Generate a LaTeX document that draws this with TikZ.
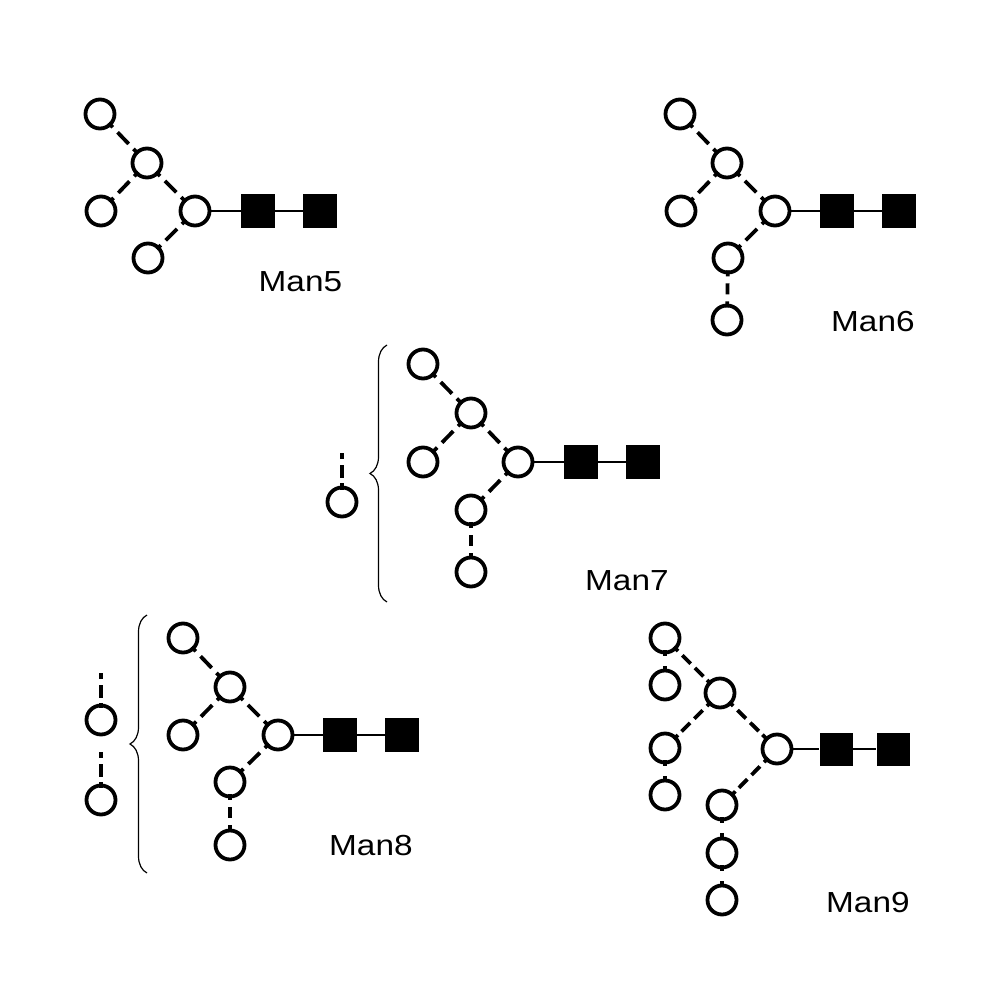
\documentclass[tikz,border=0pt]{standalone}
\usepackage{fontspec}
\usepackage{graphicx}
\setmainfont{Liberation Sans}
\usetikzlibrary{decorations.pathreplacing}
\begin{document}
\begin{tikzpicture}[x=1pt,y=-1pt,
  gc/.style={circle,draw,line width=3.8pt,fill=white,minimum size=29pt,inner sep=0pt},
  gs/.style={rectangle,fill=black,minimum size=34pt,inner sep=0pt},
  gss/.style={rectangle,fill=black,minimum size=33pt,inner sep=0pt},
  sl/.style={line width=2.2pt},
  dlink/.style={line width=3.8pt,shorten <=-4pt,shorten >=-4pt},
  dd/.style={dlink,dash pattern=on 6pt off 7pt on 16pt off 7pt on 6pt off 60pt},
  dD/.style={dlink,dash pattern=on 6pt off 6pt on 12pt off 6pt on 12pt off 5pt on 6pt off 60pt},
  dv/.style={dlink,dash pattern=on 6pt off 7pt on 11pt off 7pt on 6pt off 60pt},
  dvs/.style={dlink,dash pattern=on 6pt off 10pt on 6pt off 60pt},
  dx/.style={line width=3.8pt,shorten >=-4pt,dash pattern=on 6pt off 6pt on 13pt off 5pt on 7pt off 60pt},
  br/.style={decorate,decoration={brace,amplitude=17pt},line width=1.2pt},
  lab/.style={anchor=base west,inner sep=0pt,font=\fontsize{29}{33}\selectfont}
]
\fill[white] (0,0) rectangle (1000,1000);
\useasboundingbox (0,0) rectangle (1000,1000);

% ---------- Man5 ----------
\node[gc] (m5c) at (195,211) {};
\node[gc] (m5a) at (147,163) {};
\node[gc] (m5u) at (100,114) {};
\node[gc] (m5l) at (101,211) {};
\node[gc] (m5b) at (148,258) {};
\node[gs] (m5s1) at (258,211) {};
\node[gs] (m5s2) at (320,211) {};
\draw[dd] (m5u) -- (m5a);
\draw[dd] (m5a) -- (m5l);
\draw[dd] (m5a) -- (m5c);
\draw[dd] (m5c) -- (m5b);
\draw[sl] (m5c) -- (m5s1);
\draw[sl] (m5s1) -- (m5s2);
\node[lab] (m5t) at (258.5,291.7) {\scalebox{1.15}[1]{Man5}};

% ---------- Man6 ----------
\node[gc] (m6c) at (775,211) {};
\node[gc] (m6a) at (727,163) {};
\node[gc] (m6u) at (680,114) {};
\node[gc] (m6l) at (681,211) {};
\node[gc] (m6b) at (728,258) {};
\node[gc] (m6b2) at (727,320) {};
\node[gs] (m6s1) at (837,211) {};
\node[gs] (m6s2) at (899,211) {};
\draw[dd] (m6u) -- (m6a);
\draw[dd] (m6a) -- (m6l);
\draw[dd] (m6a) -- (m6c);
\draw[dd] (m6c) -- (m6b);
\draw[dv] (m6b) -- (m6b2);
\draw[sl] (m6c) -- (m6s1);
\draw[sl] (m6s1) -- (m6s2);
\node[lab] (m6t) at (831,331.7) {\scalebox{1.15}[1]{Man6}};

% ---------- Man7 ----------
\node[gc] (m7c) at (518,462) {};
\node[gc] (m7a) at (471,413) {};
\node[gc] (m7u) at (423,364) {};
\node[gc] (m7l) at (423,462) {};
\node[gc] (m7b) at (471,510) {};
\node[gc] (m7b2) at (471,572) {};
\node[gs] (m7s1) at (581,462) {};
\node[gs] (m7s2) at (643,462) {};
\draw[dd] (m7u) -- (m7a);
\draw[dd] (m7a) -- (m7l);
\draw[dd] (m7a) -- (m7c);
\draw[dd] (m7c) -- (m7b);
\draw[dv] (m7b) -- (m7b2);
\draw[sl] (m7c) -- (m7s1);
\draw[sl] (m7s1) -- (m7s2);
\node[gc] (m7e) at (342,502) {};
\coordinate (m7et) at (342,453);
\draw[dx] (m7et) -- (m7e);
\coordinate (m7bb) at (387,602);
\coordinate (m7bt) at (387,345);
\draw[br] (m7bb) -- (m7bt);
\node[lab] (m7t) at (585,590) {\scalebox{1.15}[1]{Man7}};

% ---------- Man8 ----------
\node[gc] (m8c) at (278,735) {};
\node[gc] (m8a) at (230,687) {};
\node[gc] (m8u) at (183,638) {};
\node[gc] (m8l) at (183,735) {};
\node[gc] (m8b) at (230,782) {};
\node[gc] (m8b2) at (230,845) {};
\node[gs] (m8s1) at (340,735) {};
\node[gs] (m8s2) at (402,735) {};
\draw[dd] (m8u) -- (m8a);
\draw[dd] (m8a) -- (m8l);
\draw[dd] (m8a) -- (m8c);
\draw[dd] (m8c) -- (m8b);
\draw[dv] (m8b) -- (m8b2);
\draw[sl] (m8c) -- (m8s1);
\draw[sl] (m8s1) -- (m8s2);
\node[gc] (m8e1) at (101,720) {};
\node[gc] (m8e2) at (101,800) {};
\coordinate (m8et1) at (101,673);
\coordinate (m8et2) at (101,752);
\draw[dx] (m8et1) -- (m8e1);
\draw[dx] (m8et2) -- (m8e2);
\coordinate (m8bb) at (147,873);
\coordinate (m8bt) at (147,615);
\draw[br] (m8bb) -- (m8bt);
\node[lab] (m8t) at (329,855) {\scalebox{1.15}[1]{Man8}};

% ---------- Man9 ----------
\node[gc] (m9c) at (777,749) {};
\node[gc] (m9a) at (720,693) {};
\node[gc] (m9u1) at (665,638) {};
\node[gc] (m9u2) at (665,685) {};
\node[gc] (m9l1) at (665,748) {};
\node[gc] (m9l2) at (665,795) {};
\node[gc] (m9b) at (722,805) {};
\node[gc] (m9b2) at (722,853) {};
\node[gc] (m9b3) at (722,900) {};
\node[gss] (m9s1) at (836,749) {};
\node[gss] (m9s2) at (893,749) {};
\draw[dD] (m9u1) -- (m9a);
\draw[dD] (m9a) -- (m9l1);
\draw[dD] (m9a) -- (m9c);
\draw[dD] (m9c) -- (m9b);
\draw[dvs] (m9u1) -- (m9u2);
\draw[dvs] (m9l1) -- (m9l2);
\draw[dvs] (m9b) -- (m9b2);
\draw[dvs] (m9b2) -- (m9b3);
\draw[sl] (m9c) -- (m9s1);
\draw[sl] (m9s1) -- (m9s2);
\node[lab] (m9t) at (826,912.3) {\scalebox{1.15}[1]{Man9}};
\end{tikzpicture}
\end{document}
